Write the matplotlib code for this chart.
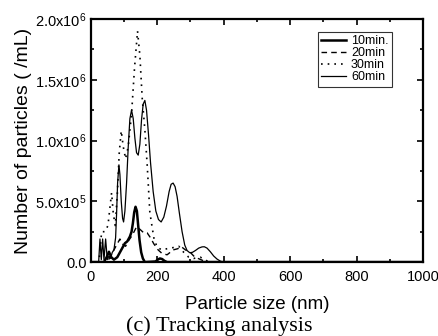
import matplotlib
matplotlib.use("Agg")
import matplotlib.pyplot as plt
from matplotlib.ticker import MultipleLocator

plt.rcParams['font.family'] = ['Liberation Sans', 'DejaVu Sans']
plt.rcParams['mathtext.fontset'] = 'custom'
plt.rcParams['mathtext.rm'] = 'Liberation Sans'
plt.rcParams['mathtext.it'] = 'Liberation Sans'

# ---- data (particle size in nm, concentration in particles/mL) ----
size_10 = [0, 40, 48, 55, 62, 70, 80, 92, 103, 110, 118, 123, 127, 131, 135, 139, 143, 147, 152, 157, 163,
           195, 202, 208, 215, 222, 230, 1000]
conc_10 = [0, 0, 0.04e6, 0.085e6, 0.04e6, 0.02e6, 0.04e6, 0.1e6, 0.155e6, 0.17e6, 0.21e6, 0.25e6, 0.32e6,
           0.41e6, 0.455e6, 0.42e6, 0.3e6, 0.18e6, 0.08e6, 0.03e6, 0.0,
           0.005e6, 0.02e6, 0.03e6, 0.025e6, 0.01e6, 0.0, 0]

size_20 = [0, 50, 60, 70, 80, 88, 95, 105, 115, 125, 138, 148, 160, 170, 180, 190, 203, 215, 230, 248, 262,
           273, 285, 298, 310, 323, 340, 360, 1000]
conc_20 = [0, 0, 0.05e6, 0.1e6, 0.15e6, 0.19e6, 0.15e6, 0.13e6, 0.18e6, 0.22e6, 0.29e6, 0.27e6, 0.24e6,
           0.24e6, 0.2e6, 0.15e6, 0.1e6, 0.07e6, 0.06e6, 0.1e6, 0.11e6, 0.126e6, 0.1e6, 0.085e6, 0.05e6,
           0.03e6, 0.01e6, 0, 0]

size_30 = [0, 25, 33, 43, 52, 58, 63, 68, 74, 80, 86, 92, 98, 105, 113, 123, 132, 141, 148, 155, 163, 170,
           178, 183, 190, 200, 215, 230, 250, 265, 280, 295, 310, 330, 350, 370, 1000]
conc_30 = [0, 0, 0.25e6, 0.25e6, 0.3e6, 0.45e6, 0.57e6, 0.4e6, 0.3e6, 0.55e6, 0.9e6, 1.08e6, 0.95e6,
           0.85e6, 0.95e6, 1.22e6, 1.6e6, 1.9e6, 1.7e6, 1.35e6, 1.09e6, 0.8e6, 0.41e6, 0.32e6, 0.2e6,
           0.12e6, 0.1e6, 0.11e6, 0.12e6, 0.13e6, 0.08e6, 0.04e6, 0.03e6, 0.04e6, 0.01e6, 0, 0]

size_60 = [0, 24, 28, 32, 36, 40, 45, 50, 55, 60, 65, 70, 75, 78, 81, 85, 88, 92, 96, 99, 103, 108, 113,
           118, 123, 128, 133, 138, 143, 148, 153, 158, 163, 168, 174, 180, 188, 196, 204, 212, 220, 228,
           236, 242, 248, 254, 260, 267, 275, 283, 290, 298, 306, 315, 325, 335, 342, 350, 360, 370, 380,
           390, 398, 1000]
conc_60 = [0, 0, 0.19e6, 0.02e6, 0.19e6, 0.02e6, 0.19e6, 0.02e6, 0.05e6, 0.03e6, 0.08e6, 0.1e6, 0.2e6,
           0.4e6, 0.65e6, 0.8e6, 0.72e6, 0.5e6, 0.36e6, 0.33e6, 0.42e6, 0.65e6, 0.95e6, 1.18e6, 1.25e6,
           1.18e6, 1.02e6, 0.9e6, 0.88e6, 0.97e6, 1.17e6, 1.3e6, 1.33e6, 1.25e6, 1.05e6, 0.82e6, 0.58e6,
           0.42e6, 0.35e6, 0.33e6, 0.37e6, 0.46e6, 0.58e6, 0.64e6, 0.65e6, 0.62e6, 0.54e6, 0.4e6, 0.25e6,
           0.14e6, 0.095e6, 0.077e6, 0.08e6, 0.095e6, 0.115e6, 0.125e6, 0.126e6, 0.115e6, 0.085e6, 0.05e6,
           0.025e6, 0.008e6, 0, 0]

series_labels = ['10min.', '20min', '30min', '60min']
ytick_values = [0, 0.5e6, 1.0e6, 1.5e6, 2.0e6]
ytick_labels = ['0.0', '5.0x10$^5$', '1.0x10$^6$', '1.5x10$^6$', '2.0x10$^6$']
xtick_values = [0, 200, 400, 600, 800, 1000]
xtick_labels = ['0', '200', '400', '600', '800', '1000']

fig = plt.figure(figsize=(4.38, 3.36), dpi=100)
ax = fig.add_axes([0.207, 0.220, 0.759, 0.7235])

ax.plot(size_10, conc_10, color='black', lw=1.8, ls='-', label=series_labels[0])
ax.plot(size_20, conc_20, color='black', lw=1.0, ls=(0, (4, 3)), label=series_labels[1])
ax.plot(size_30, conc_30, color='black', lw=1.2, ls=(0, (1, 3)), label=series_labels[2])
ax.plot(size_60, conc_60, color='black', lw=0.9, ls='-', label=series_labels[3])

ax.set_xlim(0, 1000)
ax.set_ylim(0, 2.0e6)
ax.set_xticks(xtick_values)
ax.set_xticklabels(xtick_labels)
ax.set_yticks(ytick_values)
ax.set_yticklabels(ytick_labels)
ax.xaxis.set_minor_locator(MultipleLocator(100))
ax.yaxis.set_minor_locator(MultipleLocator(0.25e6))
ax.tick_params(which='both', direction='in', top=True, right=True, width=1.2)
ax.tick_params(which='major', length=4.5, labelsize=10.5)
ax.tick_params(axis='x', which='major', pad=6)
ax.tick_params(axis='y', which='major', pad=3)
ax.tick_params(which='minor', length=2.5)
for s in ax.spines.values():
    s.set_linewidth(1.6)

fig.text(0.5865, 1 - 309 / 336, 'Particle size (nm)', ha='center', va='baseline', fontsize=13.5)
ax.set_ylabel('Number of particles ( /mL)', fontsize=14, labelpad=2)

leg = ax.legend(loc='upper right', bbox_to_anchor=(0.905, 0.945), fontsize=9, frameon=True,
                fancybox=False, edgecolor='black', handlelength=2.0, handletextpad=0.4,
                labelspacing=0.0, borderpad=0.25, borderaxespad=0)
leg.get_frame().set_linewidth(0.8)

fig.text(0.5, 0.016, '(c) Tracking analysis', ha='center', va='baseline', fontsize=16,
         family=['Liberation Serif', 'DejaVu Serif'])

fig.savefig('out.png', dpi=100)
